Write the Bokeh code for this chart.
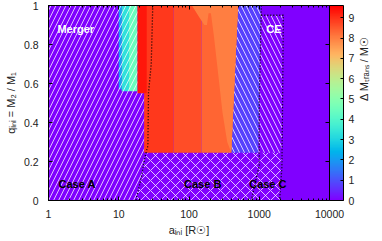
import math
from bokeh.plotting import figure
from bokeh.models import (ColumnDataSource, Range1d, LogAxis, LinearAxis, FixedTicker,
                          ColorBar, LinearColorMapper, Label, CustomJSTickFormatter)
from bokeh.embed import file_html
from bokeh.resources import INLINE

# ---------------- data ----------------
x_ticks = [1, 10, 100, 1000, 10000]
x_tick_labels = ["1", "10", "100", "1000", "10000"]
y_ticks = [0, 0.2, 0.4, 0.6, 0.8, 1.0]
y_tick_labels = ["0", "0.2", "0.4", "0.6", "0.8", "1"]
cbar_ticks = [0, 1, 2, 3, 4, 5, 6, 7, 8, 9]
cbar_labels = ["0", "1", "2", "3", "4", "5", "6", "7", "8", "9"]
dm_max = 9.6

# colour field: regions of transferred mass (a_ini in R_sun, q_ini)
bg_a = [1, 10000, 10000, 1]
bg_q = [0, 0, 1, 1]
bg_dm = 0.0

lowfield_a = [[10.0, 11.0, 11.0, 10.0],
              [11.0, 14.0, 14.0, 11.0],
              [14.0, 18.5, 18.5, 14.0],
              [300, 970, 1050, 300]]
lowfield_q = [[0.57, 0.57, 1.0, 1.0],
              [0.56, 0.56, 1.0, 1.0],
              [0.56, 0.56, 1.0, 1.0],
              [0.245, 0.245, 1.0, 1.0]]
lowfield_dm = [2.0, 3.3, 4.4, 0.8]

highfield_a = [[23, 60, 60, 23],
               [60, 150, 150, 60],
               [150, 400, 500, 150],
               [18.5, 25, 25, 18.5],
               [110, 140, 165, 180, 190, 205, 225, 260, 300, 350, 400, 500]]
highfield_q = [[0.245, 0.245, 1.0, 1.0],
               [0.245, 0.245, 1.0, 1.0],
               [0.245, 0.245, 1.0, 1.0],
               [0.55, 0.55, 1.0, 1.0],
               [1.0, 0.94, 0.9, 0.9, 0.96, 0.96, 0.85, 0.65, 0.45, 0.3, 0.245, 1.0]]
highfield_dm = [8.9, 8.65, 8.35, 9.3, 8.0]

# hatched evolutionary regions
hatch_a = [[1, 1, 30.5, 29, 26.5, 26, 23.5, 21, 17.5],
           [17.5, 21, 23.5, 26, 2100, 2050, 1950],
           [300, 300, 1050, 1070, 2150, 2100]]
hatch_q = [[0, 1, 1, 0.7, 0.55, 0.28, 0.22, 0.12, 0],
           [0, 0.12, 0.22, 0.245, 0.245, 0.17, 0],
           [0.245, 1, 1, 0.95, 0.95, 0.245]]
hatch_pat = ["/", "x", "\\"]

# dotted boundaries
bound_a = [[30.5, 29, 26.5, 26, 23.5, 21, 17.5],
           [1070, 1000, 1000, 770],
           [1070, 2200, 2150, 2100, 1950]]
bound_q = [[1, 0.7, 0.55, 0.28, 0.22, 0.12, 0],
           [1, 0.5, 0.18, 0],
           [0.95, 0.95, 0.5, 0.17, 0]]

# region labels
lab_text = ["Merger", "CE", "Case A", "Case B", "Case C"]
lab_a = [1.34, 1260, 1.39, 85, 719]
lab_q = [0.88, 0.877, 0.087, 0.087, 0.087]
lab_color = ["white", "white", "black", "black", "black"]

# colour-bar title
cbar_title = "Δ Mₜᵣₐₙₛ / M☉"
cbar_title_q = 0.51

# ---------------- palette (gnuplot rainbow 33,13,10) ----------------
palette = []
for i in range(256):
    t = i / 255
    r = min(1.0, abs(2 * t - 0.5))
    g = math.sin(math.pi * t)
    b = max(0.0, math.cos(math.pi * t / 2))
    palette.append("#%02x%02x%02x" % (round(255 * r), round(255 * g), round(255 * b)))
mapper = LinearColorMapper(palette=palette, low=0, high=dm_max)

FONT = "Liberation Sans"

p = figure(width=382, height=241, x_axis_type="log",
           x_range=Range1d(1, 10000), y_range=Range1d(0, 1),
           output_backend="svg", toolbar_location=None,
           min_border_left=48, min_border_top=5, min_border_bottom=41, min_border_right=53)
p.grid.visible = False
p.outline_line_color = "black"
p.background_fill_color = "white"
p.border_fill_color = "white"

# colour field
p.patches("xs", "ys", fill_color={"field": "dm", "transform": mapper}, line_color=None,
          source=ColumnDataSource(dict(xs=[bg_a], ys=[bg_q], dm=[bg_dm])))
p.patches("xs", "ys", fill_color={"field": "dm", "transform": mapper}, line_color=None,
          source=ColumnDataSource(dict(xs=lowfield_a, ys=lowfield_q, dm=lowfield_dm)))
p.patches("xs", "ys", fill_alpha=0, line_color=None,
          hatch_pattern="pat", hatch_color="white", hatch_alpha=0.75,
          hatch_scale=10, hatch_weight=1,
          source=ColumnDataSource(dict(xs=hatch_a, ys=hatch_q, pat=hatch_pat)))
p.patches("xs", "ys", fill_color={"field": "dm", "transform": mapper}, line_color=None,
          source=ColumnDataSource(dict(xs=highfield_a, ys=highfield_q, dm=highfield_dm)))
p.multi_line("xs", "ys", line_color="black", line_width=1.3, line_dash="1 2",
             source=ColumnDataSource(dict(xs=bound_a, ys=bound_q)))

for t, a, q, c in zip(lab_text, lab_a, lab_q, lab_color):
    p.add_layout(Label(x=a, y=q, text=t, text_color=c, text_font=FONT,
                       text_font_style="bold", text_font_size="11px",
                       text_baseline="middle", text_align="left"))

def fmt(tv, tl):
    return CustomJSTickFormatter(args=dict(tv=tv, tl=tl), code="""
        for (let i = 0; i < tv.length; i++) {
            if (Math.abs(tv[i] - tick) <= 1e-9 * Math.max(1, Math.abs(tick))) return tl[i];
        }
        return '';""")

blank = CustomJSTickFormatter(code="return '';")

minor_x = [m * 10 ** k for k in range(4) for m in range(2, 10)]

def style_axis(ax):
    ax.axis_line_color = "black"
    ax.major_tick_line_color = "black"
    ax.minor_tick_line_color = "black"
    ax.major_tick_in = 4
    ax.major_tick_out = 0
    ax.minor_tick_in = 2
    ax.minor_tick_out = 0
    ax.major_label_text_font = FONT
    ax.major_label_text_font_size = "10.5px"
    ax.major_label_text_color = "#222222"
    ax.axis_label_text_font = FONT
    ax.axis_label_text_font_size = "11px"
    ax.axis_label_text_font_style = "normal"
    ax.axis_label_text_color = "#222222"

xa = p.xaxis[0]
xa.ticker = FixedTicker(ticks=x_ticks, minor_ticks=minor_x)
xa.formatter = fmt(x_ticks, x_tick_labels)
style_axis(xa)
xa.major_label_standoff = 9
xa.axis_label = "aᵢₙᵢ [R☉]"
xa.axis_label_standoff = 3

ya = p.yaxis[0]
ya.ticker = FixedTicker(ticks=y_ticks)
ya.formatter = fmt(y_ticks, y_tick_labels)
style_axis(ya)
ya.major_label_standoff = 10
ya.axis_label = "qᵢₙᵢ = M₂ / M₁"
ya.axis_label_standoff = 4

top = LogAxis(ticker=FixedTicker(ticks=x_ticks, minor_ticks=minor_x), formatter=blank)
style_axis(top)
top.major_label_text_font_size = "1px"
top.major_label_standoff = 0
p.add_layout(top, "above")

right = LinearAxis(ticker=FixedTicker(ticks=y_ticks), formatter=blank)
style_axis(right)
right.major_label_text_font_size = "1px"
right.major_label_standoff = 0
p.add_layout(right, "right")

cb = ColorBar(color_mapper=mapper, ticker=FixedTicker(ticks=cbar_ticks),
              formatter=fmt(cbar_ticks, cbar_labels),
              width=14, padding=0, margin=5, label_standoff=5,
              bar_line_color="black", major_tick_line_color="black",
              major_tick_in=3, major_tick_out=0, minor_tick_line_color=None,
              major_label_text_font=FONT, major_label_text_font_size="10.5px",
              major_label_text_color="#222222", background_fill_alpha=0,
              border_line_color=None)
p.add_layout(cb, "right")

# colour-bar title, written bottom-to-top beside the colour bar
ttl = LinearAxis(ticker=FixedTicker(ticks=[cbar_title_q]),
                 formatter=CustomJSTickFormatter(args=dict(t=cbar_title), code="return t;"))
ttl.axis_line_color = None
ttl.major_tick_line_color = None
ttl.minor_tick_line_color = None
ttl.major_label_orientation = math.pi / 2
ttl.major_label_standoff = 1
ttl.major_label_text_font = FONT
ttl.major_label_text_font_size = "11px"
ttl.major_label_text_color = "#222222"
p.add_layout(ttl, "right")

open("out.html", "w").write(file_html(p, INLINE))
